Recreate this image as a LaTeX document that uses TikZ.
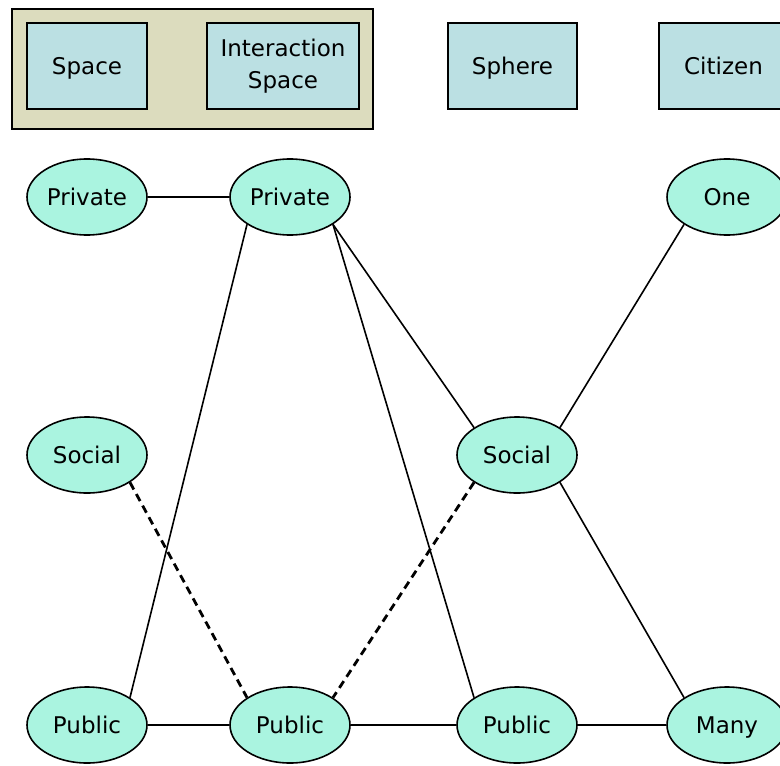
\documentclass[tikz,border=0pt]{standalone}
\usepackage{xcolor}
\usepackage{fontspec}
\setmainfont{DejaVu Sans}
\usepackage{tikz}
\usetikzlibrary{shapes}
\usetikzlibrary{shapes.geometric}
\definecolor{tanbg}{RGB}{220,220,190}
\definecolor{boxfill}{RGB}{187,224,227}
\definecolor{ovalfill}{RGB}{170,244,224}
\tikzstyle{headbox} = [rectangle, draw, fill=boxfill, line width=1pt, minimum height=43pt, align=center, font=\fontsize{11.5}{16}\selectfont]
\tikzstyle{oneline} = [text height=8.6pt, text depth=0pt]
\tikzstyle{oval} = [ellipse, draw, fill=ovalfill, line width=0.8pt, minimum width=60pt, minimum height=38pt, inner sep=0, oneline, font=\fontsize{11.5}{16}\selectfont]
\tikzstyle{link} = [-, line width=0.8pt]
\tikzstyle{weak} = [-, line width=1.4pt, dash pattern=on 4pt off 2.6pt]

\begin{document}
\begin{tikzpicture}[x=0.5pt, y=-0.5pt]
\useasboundingbox (0,0) rectangle (780,765);
%\node [draw=none] at (390,0) {legend};
\draw [fill=tanbg, line width=1pt] (12,9) rectangle (373,129);
\node [headbox, oneline, minimum width=60pt] (space) at (87,66) {Space};
\node [headbox, minimum width=76pt] (ispace) at (283,66) {Interaction\\Space};
\node [headbox, oneline, minimum width=64.5pt] (sphere) at (512.5,66) {Sphere};
\node [headbox, oneline, minimum width=64.5pt] (citizen) at (723.5,66) {Citizen};

\node [oval] (privA) at (87, 197) {Private};
\node [oval] (privB) at (290, 197) {Private};
\node [oval] (one) at (727, 197) {One};
\node [oval] (socA) at (87, 455) {Social};
\node [oval] (socB) at (517, 455) {Social};
\node [oval] (pubA) at (87, 725) {Public};
\node [oval] (pubB) at (290, 725) {Public};
\node [oval] (pubC) at (517, 725) {Public};
\node [oval] (many) at (727, 725) {Many};

\draw [link] (privA.east) to (privB.west);
\draw [link] (privB.south west) to (pubA.north east);
\draw [link] (privB.south east) to (pubC.north west);
\draw [link] (privB.south east) to (socB.north west);
\draw [link] (one.south west) to (socB.north east);
\draw [link] (socB.south east) to (many.north west);
\draw [weak] (socA.south east) to (pubB.north west);
\draw [weak] (socB.south west) to (pubB.north east);
\draw [link] (pubA.east) to (pubB.west);
\draw [link] (pubB.east) to (pubC.west);
\draw [link] (pubC.east) to (many.west);
\end{tikzpicture}
\end{document}
